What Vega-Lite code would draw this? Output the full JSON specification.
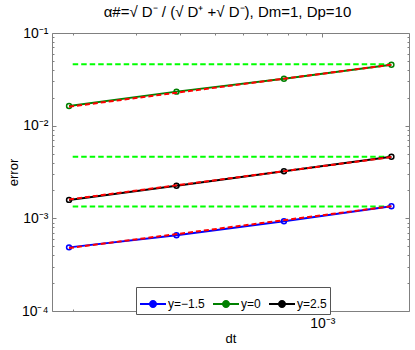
{
  "$schema": "https://vega.github.io/schema/vega-lite/v6.json",
  "width": 357,
  "height": 278,
  "autosize": {"type": "none"},
  "padding": {"left": 52, "top": 33, "right": 6, "bottom": 39},
  "title": {"text": "α#=√ D⁻ / (√ D⁺ +√ D⁻), Dm=1, Dp=10", "fontSize": 15, "fontWeight": "normal", "font": "Liberation Sans", "color": "black", "offset": 6, "dx": -3},
  "config": {
    "font": "Liberation Sans",
    "view": {"stroke": "#808080"},
    "axis": {"domain": false, "grid": false, "tickColor": "#808080", "tickWidth": 1, "labelColor": "black", "labelFont": "Liberation Sans", "labelFontSize": 14, "labelFlush": false, "labelOverlap": false, "titleFont": "Liberation Sans", "titleFontSize": 13, "titleFontWeight": "normal", "titleColor": "black"}
  },
  "datasets": {
    "series": [
      {"dt": 0.0001953125, "err": 0.000486, "series": "y=−1.5"},
      {"dt": 0.000390625, "err": 0.000656, "series": "y=−1.5"},
      {"dt": 0.00078125, "err": 0.000929, "series": "y=−1.5"},
      {"dt": 0.0015625, "err": 0.00135, "series": "y=−1.5"},
      {"dt": 0.0001953125, "err": 0.0163, "series": "y=0"},
      {"dt": 0.000390625, "err": 0.0233, "series": "y=0"},
      {"dt": 0.00078125, "err": 0.0321, "series": "y=0"},
      {"dt": 0.0015625, "err": 0.0455, "series": "y=0"},
      {"dt": 0.0001953125, "err": 0.00158, "series": "y=2.5"},
      {"dt": 0.000390625, "err": 0.00225, "series": "y=2.5"},
      {"dt": 0.00078125, "err": 0.00322, "series": "y=2.5"},
      {"dt": 0.0015625, "err": 0.00462, "series": "y=2.5"}
    ],
    "fit": [
      {"dt": 0.0001953125, "err": 0.000478, "series": "y=−1.5"},
      {"dt": 0.0015625, "err": 0.00135, "series": "y=−1.5"},
      {"dt": 0.0001953125, "err": 0.0160, "series": "y=0"},
      {"dt": 0.0015625, "err": 0.0455, "series": "y=0"},
      {"dt": 0.0001953125, "err": 0.00160, "series": "y=2.5"},
      {"dt": 0.0015625, "err": 0.00458, "series": "y=2.5"}
    ],
    "ref": [
      {"dt": 0.0002, "err": 0.00134, "series": "y=−1.5"},
      {"dt": 0.00155, "err": 0.00134, "series": "y=−1.5"},
      {"dt": 0.0002, "err": 0.0459, "series": "y=0"},
      {"dt": 0.00155, "err": 0.0459, "series": "y=0"},
      {"dt": 0.0002, "err": 0.00462, "series": "y=2.5"},
      {"dt": 0.00155, "err": 0.00462, "series": "y=2.5"}
    ]
  },
  "resolve": {"axis": {"x": "independent", "y": "independent"}},
  "layer": [
    {
      "data": {"name": "ref"},
      "mark": {"type": "line", "color": "#00FF00", "strokeWidth": 2, "strokeDash": [5.5, 3]},
      "encoding": {
        "x": {"field": "dt", "type": "quantitative", "scale": {"type": "log", "domain": [0.000175, 0.00175], "nice": false},
              "axis": {"orient": "bottom", "values": [0.001], "labelExpr": "'10⁻³'", "tickSize": -4, "labelPadding": 9, "title": "dt", "titlePadding": 2}},
        "y": {"field": "err", "type": "quantitative", "scale": {"type": "log", "domain": [0.0001, 0.1], "nice": false},
              "axis": {"orient": "left", "values": [0.0001, 0.001, 0.01, 0.1], "labelExpr": "datum.value > 0.05 ? '10⁻¹' : datum.value > 0.005 ? '10⁻²' : datum.value > 0.0005 ? '10⁻³' : '10⁻⁴'", "tickSize": -4, "labelPadding": 8, "labelBaseline": "middle", "title": "error", "titlePadding": 1}},
        "detail": {"field": "series", "type": "nominal"}
      }
    },
    {
      "data": {"name": "series"},
      "mark": {"type": "line", "strokeWidth": 2},
      "encoding": {
        "x": {"field": "dt", "type": "quantitative",
              "axis": {"orient": "bottom", "values": [0.0002, 0.0003, 0.0004, 0.0005, 0.0006, 0.0007, 0.0008, 0.0009], "labels": false, "tickSize": -2, "title": null}},
        "y": {"field": "err", "type": "quantitative",
              "axis": {"orient": "left", "values": [0.0002, 0.0003, 0.0004, 0.0005, 0.0006, 0.0007, 0.0008, 0.0009, 0.002, 0.003, 0.004, 0.005, 0.006, 0.007, 0.008, 0.009, 0.02, 0.03, 0.04, 0.05, 0.06, 0.07, 0.08, 0.09], "labels": false, "tickSize": -2, "title": null}},
        "color": {"field": "series", "type": "nominal",
                  "scale": {"domain": ["y=−1.5", "y=0", "y=2.5"], "range": ["#0000FF", "#008000", "#000000"]},
                  "legend": {"orient": "none", "legendX": 84, "legendY": 254, "direction": "horizontal", "title": null,
                             "symbolType": "M-1,0L1,0M0.23,0A0.23,0.23,0,1,1,-0.23,0A0.23,0.23,0,1,1,0.23,0Z",
                             "symbolSize": 676, "symbolStrokeWidth": 2, "labelFontSize": 12, "labelFont": "Liberation Sans", "labelColor": "black",
                             "padding": 3, "strokeColor": "#555555", "fillColor": "white", "columnPadding": 4, "labelOffset": 1,
                             "encode": {"symbols": {"update": {"fill": {"scale": "color", "field": "value"}, "stroke": {"scale": "color", "field": "value"}}}}}}
      }
    },
    {
      "data": {"name": "series"},
      "mark": {"type": "point", "filled": false, "size": 24, "strokeWidth": 1.5, "opacity": 1},
      "encoding": {
        "x": {"field": "dt", "type": "quantitative",
              "axis": {"orient": "top", "values": [0.001], "labels": false, "tickSize": -4, "title": null}},
        "y": {"field": "err", "type": "quantitative",
              "axis": {"orient": "right", "values": [0.0001, 0.001, 0.01, 0.1], "labels": false, "tickSize": -4, "title": null}},
        "color": {"field": "series", "type": "nominal", "legend": null}
      }
    },
    {
      "data": {"name": "fit"},
      "mark": {"type": "line", "color": "#FF0000", "strokeWidth": 2, "strokeDash": [5, 3]},
      "encoding": {
        "x": {"field": "dt", "type": "quantitative",
              "axis": {"orient": "top", "values": [0.0002, 0.0003, 0.0004, 0.0005, 0.0006, 0.0007, 0.0008, 0.0009], "labels": false, "tickSize": -2, "title": null}},
        "y": {"field": "err", "type": "quantitative",
              "axis": {"orient": "right", "values": [0.0002, 0.0003, 0.0004, 0.0005, 0.0006, 0.0007, 0.0008, 0.0009, 0.002, 0.003, 0.004, 0.005, 0.006, 0.007, 0.008, 0.009, 0.02, 0.03, 0.04, 0.05, 0.06, 0.07, 0.08, 0.09], "labels": false, "tickSize": -2, "title": null}},
        "detail": {"field": "series", "type": "nominal"}
      }
    }
  ]
}
